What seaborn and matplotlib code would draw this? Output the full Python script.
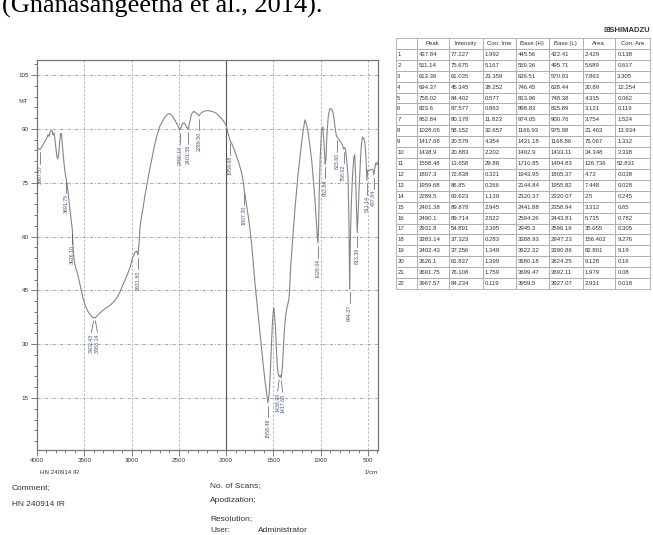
import numpy as np
import pandas as pd
import seaborn as sns
import matplotlib.pyplot as plt
from matplotlib.ticker import MultipleLocator

W, H = 653, 535

# traced FTIR spectrum (1/cm, %T)
wavenumber = [
    4000, 3985, 3967.57, 3950, 3930, 3910, 3895, 3882, 3872, 3862, 3850, 3840,
    3830, 3820, 3812, 3800, 3790, 3780, 3770, 3760, 3750, 3742, 3730, 3715,
    3702, 3691.75, 3680, 3668, 3655, 3640, 3626.1, 3618, 3605, 3590, 3570, 3550,
    3530, 3510, 3490, 3465, 3440, 3420, 3402.43, 3392, 3383.14, 3360, 3330, 3300,
    3263, 3220, 3175, 3140, 3105, 3060, 3017, 2990, 2965, 2945, 2931.8, 2922,
    2911, 2895, 2876, 2860, 2841, 2815, 2788, 2760, 2735, 2700, 2665, 2635,
    2612, 2590, 2570, 2550, 2524, 2505, 2490.1, 2475, 2458, 2440, 2420, 2401.38,
    2385, 2368, 2345, 2320, 2305, 2289.5, 2270, 2240, 2207, 2170, 2130, 2101,
    2065, 2031, 2000, 1980, 1959.68, 1942, 1915, 1889, 1860, 1836, 1820, 1807.3,
    1785, 1766, 1750, 1731, 1713, 1695, 1678, 1660, 1643, 1625, 1607, 1590,
    1572, 1558.48, 1545, 1533, 1522, 1512, 1502, 1495, 1488, 1478, 1468, 1458,
    1448, 1438.9, 1428, 1417.68, 1407, 1396, 1386, 1372, 1361, 1345, 1336, 1326,
    1318, 1308, 1290, 1273, 1255, 1238, 1220, 1202, 1185, 1167, 1150, 1132,
    1115, 1096, 1078, 1061, 1048, 1037, 1028.06, 1022, 1016, 1005, 991, 978,
    965, 952.84, 944, 935, 920, 903, 885, 872, 860, 848, 835, 823.6,
    800, 780, 765, 758.02, 746, 735, 722, 711, 703, 698, 694.37, 690,
    684, 675, 662, 650, 640, 630, 621, 613.36, 606, 596, 582, 570,
    559, 545, 532, 521, 511.14, 502, 490, 475, 458, 447, 437.84, 428,
    418, 408, 396,
]
transmittance = [
    84.8, 84.5, 84.23, 84.9, 85.9, 86.8, 87.6, 88.4, 87.9, 89.0, 89.6, 89.4,
    88.3, 88.9, 87.5, 84.5, 82.3, 81.6, 83.0, 86.5, 88.8, 88.6, 85.0, 80.5,
    77.6, 76.11, 74.2, 71.5, 68.2, 64.8, 61.84, 56.5, 53.0, 51.2, 49.5, 47.2,
    44.8, 42.5, 40.8, 39.3, 38.3, 37.7, 37.26, 37.5, 37.32, 38.0, 38.8, 39.5,
    40.2, 41.0, 42.2, 43.6, 45.7, 48.4, 51.3, 54.0, 55.6, 55.9, 54.89, 57.5,
    62.5, 65.5, 68.4, 71.2, 74.0, 77.8, 81.4, 85.0, 87.9, 90.8, 92.5, 93.7,
    94.2, 94.2, 93.6, 92.8, 91.6, 90.5, 89.71, 90.6, 91.6, 91.6, 90.6, 89.88,
    91.8, 94.0, 94.9, 94.5, 94.2, 93.62, 94.3, 94.9, 95.1, 95.0, 94.7, 94.3,
    93.3, 92.3, 91.0, 88.8, 86.85, 86.0, 84.3, 82.3, 80.0, 77.7, 75.5, 72.84,
    69.0, 65.6, 62.5, 58.0, 52.5, 47.0, 42.5, 37.8, 33.2, 28.5, 24.0, 20.0,
    16.5, 13.66, 16.0, 22.0, 29.0, 35.0, 39.2, 40.0, 38.0, 34.5, 28.5, 23.5,
    21.5, 20.88, 21.3, 20.58, 23.0, 28.0, 33.2, 37.5, 39.7, 41.5, 42.5, 46.5,
    51.5, 55.0, 61.0, 67.5, 72.8, 77.7, 82.0, 86.0, 89.5, 92.5, 91.2, 88.8,
    85.5, 81.4, 76.0, 70.3, 65.0, 60.5, 58.15, 63.0, 72.0, 82.0, 89.7, 90.6,
    86.0, 80.18, 81.5, 88.0, 93.5, 95.7, 95.5, 94.8, 93.0, 90.3, 88.2, 87.58,
    86.8, 86.0, 85.2, 84.40, 84.8, 84.0, 80.5, 76.5, 67.0, 56.0, 45.35, 52.0,
    62.0, 70.0, 77.5, 82.0, 82.8, 76.0, 67.0, 61.04, 65.0, 72.0, 80.0, 85.5,
    87.8, 87.4, 86.0, 82.0, 75.68, 78.5, 78.3, 78.6, 78.8, 78.5, 77.23, 79.0,
    80.5, 80.0, 80.8,
]

# peak table
peak = [437.84, 511.14, 613.36, 694.37, 758.02, 823.6, 952.84, 1028.06,
        1417.68, 1438.9, 1558.48, 1807.3, 1959.68, 2289.5, 2401.38, 2490.1,
        2931.8, 3383.14, 3402.43, 3626.1, 3691.75, 3967.57]
intensity = [77.227, 75.675, 61.035, 45.345, 84.402, 87.577, 80.178, 58.152,
             20.579, 20.883, 13.658, 72.838, 86.85, 93.623, 89.878, 89.714,
             54.891, 37.323, 37.256, 61.837, 76.108, 84.234]
corr_int = [1.992, 5.167, 23.359, 38.252, 0.577, 0.863, 11.823, 32.657,
            4.354, 2.202, 29.88, 0.321, 0.266, 1.139, 2.945, 2.522,
            2.395, 0.283, 1.349, 1.399, 1.759, 0.119]
base_h = [445.56, 559.36, 636.51, 746.45, 813.96, 898.83, 974.05, 1166.93,
          1431.18, 1492.9, 1710.85, 1943.95, 2144.84, 2320.37, 2441.88, 2594.26,
          2945.3, 3388.93, 3622.32, 3680.18, 3699.47, 3959.5]
base_l = [422.41, 495.71, 570.93, 638.44, 748.38, 815.89, 900.76, 975.98,
          1168.86, 1433.11, 1494.83, 1805.37, 1955.82, 2220.07, 2358.94, 2443.81,
          2596.19, 2947.23, 3390.86, 3624.25, 3692.11, 3927.07]
area = [2.429, 5.689, 7.863, 20.89, 4.315, 3.121, 3.754, 21.463,
        75.067, 34.348, 126.736, 4.72, 7.448, 2.5, 3.312, 5.735,
        35.055, 156.402, 82.801, 9.128, 1.979, 2.931]
corr_area = [0.138, 0.617, 3.305, 12.254, 0.062, 0.119, 1.524, 13.934,
             1.312, 2.338, 52.831, 0.038, 0.028, 0.245, 0.65, 0.782,
             0.305, 9.276, 9.19, 0.16, 0.08, 0.018]
header = ["", "Peak", "Intensity", "Corr. Inte", "Base (H)", "Base (L)", "Area", "Corr. Are"]

sns.set_style("white")
plt.rcParams['font.family'] = ['Liberation Sans', 'DejaVu Sans']

fig = plt.figure(figsize=(W / 100, H / 100), dpi=100)


def box(l, t, r, b):
    return [l / W, 1 - b / H, (r - l) / W, (b - t) / H]


ax = fig.add_axes(box(37, 60, 378, 450))
df = pd.DataFrame({'wn': wavenumber, 't': transmittance})
sns.lineplot(data=df, x='wn', y='t', ax=ax, color='#858585', lw=0.8,
             estimator=None, sort=False)

ax.set_xlim(4000, 394)
ax.set_ylim(0.5, 109.2)
ax.set_xlabel("")
ax.set_ylabel("")
ax.xaxis.set_major_locator(MultipleLocator(500))
ax.xaxis.set_minor_locator(MultipleLocator(100))
ax.yaxis.set_major_locator(MultipleLocator(15))
ax.yaxis.set_minor_locator(MultipleLocator(3))
ax.tick_params(which='both', direction='out', color='#666666', labelsize=4.5,
               labelcolor='#333333', left=True, bottom=True, width=0.6, pad=1.5)
ax.tick_params(which='major', length=4.5)
ax.tick_params(which='minor', length=2.5)
for s in ax.spines.values():
    s.set_color('#777777')
    s.set_linewidth(0.9)

for v in [15, 30, 45, 60, 75, 90, 105]:
    ax.axhline(v, color='#9a9a9a', lw=0.6, ls=(0, (4, 2, 1, 2)), zorder=0)
for v in [3500, 3000, 2500, 1500, 1000, 500]:
    ax.axvline(v, color='#b0b0b0', lw=0.6, ls=(0, (3, 2)), zorder=0)
ax.axvline(2000, color='#555555', lw=0.8, zorder=0)

ax.annotate("%T", xy=(-0.025, 97.5), xycoords=('axes fraction', 'data'),
            ha='right', va='center', fontsize=4.5, color='#333333')

# peak labels with leader lines
lab_c = '#4a5878'
shift = {3402.43: 22, 3383.14: -22, 1438.9: 16, 1417.68: -16}
for p, t in zip(peak, intensity):
    px = p + shift.get(p, 0)
    ax.plot([p, px], [t - 0.8, t - 4.0], color=lab_c, lw=0.5)
    ax.text(px, t - 4.3, f"{p:.2f}", rotation=90, ha='center', va='top',
            fontsize=3.8, color=lab_c)

# peak table
axt = fig.add_axes(box(396, 38, 650, 289))
axt.axis('off')
rows = []
for i in range(len(peak)):
    rows.append([str(i + 1)] + [f"{v:g}" for v in (peak[i], intensity[i], corr_int[i],
                                                     base_h[i], base_l[i], area[i], corr_area[i])])
widths = np.array([20.6, 32, 34, 32.7, 33.3, 33.4, 32.6, 34.7])
tbl = axt.table(cellText=rows, colLabels=header, cellLoc='left', bbox=[0, 0, 1, 1],
                colWidths=list(widths / widths.sum()))
tbl.auto_set_font_size(False)
tbl.set_fontsize(4.3)
for cell in tbl.get_celld().values():
    cell.set_edgecolor('#a8a8a8')
    cell.set_linewidth(0.6)
    cell.PAD = 0.06
    cell.get_text().set_color('#333333')

fig.text(650 / W, 1 - 30 / H, "⊞SHIMADZU", ha='right', va='center', fontsize=5.5,
         weight='bold', color='#333333')

fig.text(2 / W, 1 - 13 / H, "(Gnanasangeetha et al., 2014).", ha='left', va='baseline',
         fontsize=19, family='Liberation Serif', color='black')

fig.text(40 / W, 1 - 473 / H, "HN 240914 IR", fontsize=4.4, va='center', color='#333333')
fig.text(378 / W, 1 - 473 / H, "1/cm", fontsize=4.4, va='center', ha='right', color='#333333')
fig.text(12 / W, 1 - 488 / H, "Comment;", fontsize=6, va='center', color='#333333')
fig.text(12 / W, 1 - 505 / H, "HN 240914 IR", fontsize=6, va='center', color='#333333')
fig.text(210 / W, 1 - 486 / H, "No. of Scans;", fontsize=6, va='center', color='#333333')
fig.text(210 / W, 1 - 500 / H, "Apodization;", fontsize=6, va='center', color='#333333')
fig.text(210 / W, 1 - 519 / H, "Resolution;", fontsize=6, va='center', color='#333333')
fig.text(210 / W, 1 - 531 / H, "User:", fontsize=6, va='center', color='#333333')
fig.text(258 / W, 1 - 531 / H, "Administrator", fontsize=6, va='center', color='#333333')

fig.savefig("out.png", dpi=100)
